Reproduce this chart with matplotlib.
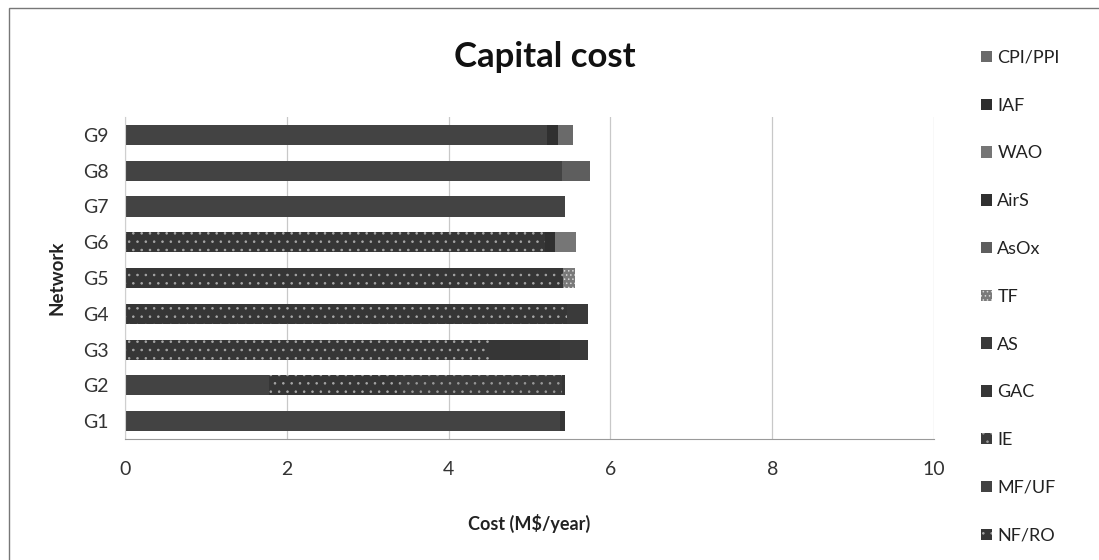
import matplotlib
matplotlib.use("Agg")
import matplotlib.pyplot as plt
from matplotlib.patches import Patch, Rectangle

networks = ["G1", "G2", "G3", "G4", "G5", "G6", "G7", "G8", "G9"]

# Capital cost per treatment unit (M$/year), stacked left to right
mf_uf   = [5.38, 1.78, 0.00, 0.00, 0.00, 0.00, 5.44, 5.40, 5.22]
nf_ro   = [0.00, 1.62, 4.50, 5.46, 5.41, 5.19, 0.00, 0.00, 0.00]
ie      = [0.00, 2.00, 0.00, 0.00, 0.00, 0.00, 0.00, 0.00, 0.00]
gac     = [0.06, 0.04, 0.88, 0.00, 0.00, 0.00, 0.00, 0.00, 0.00]
as_     = [0.00, 0.00, 0.34, 0.26, 0.00, 0.00, 0.00, 0.00, 0.00]
tf      = [0.00, 0.00, 0.00, 0.00, 0.15, 0.00, 0.00, 0.00, 0.00]
asox    = [0.00, 0.00, 0.00, 0.00, 0.00, 0.00, 0.00, 0.35, 0.00]
airs    = [0.00, 0.00, 0.00, 0.00, 0.00, 0.13, 0.00, 0.00, 0.13]
wao     = [0.00, 0.00, 0.00, 0.00, 0.00, 0.25, 0.00, 0.00, 0.00]
iaf     = [0.00, 0.00, 0.00, 0.00, 0.00, 0.00, 0.00, 0.00, 0.00]
cpi_ppi = [0.00, 0.00, 0.00, 0.00, 0.00, 0.00, 0.00, 0.00, 0.19]

legend_order = ["CPI/PPI", "IAF", "WAO", "AirS", "AsOx", "TF", "AS", "GAC", "IE", "MF/UF", "NF/RO"]
x_ticks = [0, 2, 4, 6, 8, 10]

series = [
    ("MF/UF", mf_uf), ("NF/RO", nf_ro), ("IE", ie), ("GAC", gac), ("AS", as_),
    ("TF", tf), ("AsOx", asox), ("AirS", airs), ("WAO", wao), ("IAF", iaf),
    ("CPI/PPI", cpi_ppi),
]

# face colour, hatch, hatch colour
styles = {
    "CPI/PPI": ("#6a6a6a", "", None),
    "IAF":     ("#2e2e2e", "", None),
    "WAO":     ("#767676", "", None),
    "AirS":    ("#303030", "", None),
    "AsOx":    ("#5e5e5e", "", None),
    "TF":      ("#7a7a7a", "....", "#d8d8d8"),
    "AS":      ("#3a3a3a", "", None),
    "GAC":     ("#363636", "", None),
    "IE":      ("#3c3c3c", "..", "#9a9a9a"),
    "MF/UF":   ("#434343", "", None),
    "NF/RO":   ("#363636", "..", "#a8a8a8"),
}

plt.rcParams["font.family"] = ["Lato", "DejaVu Sans"]
plt.rcParams["hatch.linewidth"] = 0.6

fig = plt.figure(figsize=(10.99, 5.6), dpi=100)
ax = fig.add_axes([0.1137, 0.216, 0.7362, 0.575])

ypos = list(range(len(networks)))
left = [0.0] * len(networks)
for name, vals in series:
    fc, hatch, hc = styles[name]
    ax.barh(ypos, vals, left=left, height=0.56, color=fc,
            hatch=hatch if hatch else None,
            edgecolor=hc if hc else fc, linewidth=0)
    left = [l + v for l, v in zip(left, vals)]

ax.set_xlim(0, 10)
ax.set_ylim(-0.5, len(networks) - 0.5)
ax.set_xticks(x_ticks)
ax.set_xticklabels([str(t) for t in x_ticks])
ax.set_yticks(ypos)
ax.set_yticklabels(networks)
ax.tick_params(axis="both", length=0, labelsize=14, colors="#333333", pad=12)
ax.tick_params(axis="x", pad=16)

ax.grid(axis="x", color="#c8c8c8", linewidth=0.9)
ax.set_axisbelow(True)
for s in ["top", "right"]:
    ax.spines[s].set_visible(False)
ax.spines["left"].set_color("#cfcfcf")
ax.spines["bottom"].set_color("#9a9a9a")

ax.set_xlabel("Cost (M$/year)", fontsize=13, fontweight="bold", color="#222222", labelpad=26)
ax.set_ylabel("Network", fontsize=13.5, fontweight="bold", color="#222222", labelpad=12)

fig.text(0.496, 0.898, "Capital cost", ha="center", va="center",
         fontsize=25, fontweight="bold", color="#111111")

handles = []
for name in legend_order:
    fc, hatch, hc = styles[name]
    handles.append(Patch(facecolor=fc, hatch=hatch if hatch else None,
                         edgecolor=hc if hc else fc, linewidth=0, label=name))
fig.legend(handles=handles, loc="upper left", bbox_to_anchor=(0.878, 0.94),
           frameon=False, fontsize=13, handlelength=0.6, handleheight=0.6,
           handletextpad=0.3, labelspacing=1.76, labelcolor="#222222")

# outer chart frame
fig.patches.append(Rectangle((0.008, -0.02), 1.1, 1.005, transform=fig.transFigure,
                             fill=False, edgecolor="#777777", linewidth=1.0))

fig.savefig("out.png", dpi=100, facecolor="white")
